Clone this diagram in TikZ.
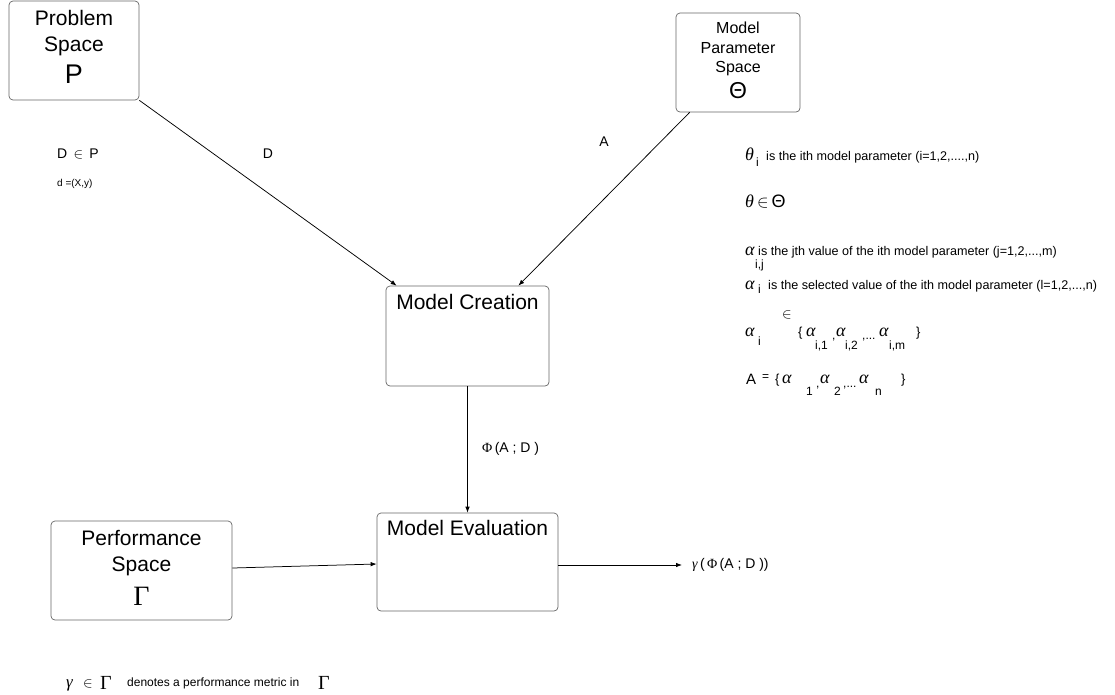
\documentclass[tikz,border=0pt]{standalone}
\usepackage{fontspec}
\setmainfont{Liberation Sans}
\newfontfamily\grk{Liberation Serif}
\usetikzlibrary{arrows.meta}
\newcommand\gk[1]{{\grk\itshape #1}}
\newcommand\gu[1]{{\grk #1}}
\newcommand\fs[1]{\fontsize{#1}{#1}\selectfont}
\begin{document}
\begin{tikzpicture}[x=1pt,y=-1pt,
  box/.style={draw=black!60, rounded corners=4pt, line width=0.7pt, inner sep=0pt},
  arr/.style={-{Latex[length=6pt,width=4.5pt]}, line width=0.75pt, black},
  tt/.style={inner sep=0pt, anchor=base west},
  ct/.style={inner sep=0pt, anchor=base}]
\useasboundingbox[fill=white] (0,0) rectangle (1115,694);

% boxes
\node[box, minimum width=130pt, minimum height=99pt] (ps) at (74,50.5) {};
\node[box, minimum width=124pt, minimum height=99pt] (mps) at (738,62.5) {};
\node[box, minimum width=163pt, minimum height=100pt] (mc) at (467.5,336) {};
\node[box, minimum width=181pt, minimum height=98pt] (me) at (467.5,562) {};
\node[box, minimum width=181pt, minimum height=99pt] (pf) at (141.5,570.5) {};

% box texts
\node[ct, font=\fs{21}] (psa) at (74,25) {Problem};
\node[ct, font=\fs{21}] (psb) at (74,51) {Space};
\node[ct, font=\fs{27}] (psc) at (74,83) {P};
\node[ct, font=\fs{16}] (mpa) at (738,33) {Model};
\node[ct, font=\fs{16}] (mpb) at (738,53) {Parameter};
\node[ct, font=\fs{16}] (mpc) at (738,72) {Space};
\node[ct, font=\fs{23}] (mpd) at (738,98) {Θ};
\node[ct, font=\fs{21}] (mct) at (467.5,309) {Model Creation};
\node[ct, font=\fs{21}] (met) at (467.5,535) {Model Evaluation};
\node[ct, font=\fs{21}] (pfa) at (141.5,545) {Performance};
\node[ct, font=\fs{21}] (pfb) at (141.5,571) {Space};
\node[ct, font=\fs{28}] (pfc) at (141.5,605) {\gu{Γ}};

% connectors
\coordinate (outp) at (682,565);
\draw[arr] (ps.south east) -- ([xshift=11pt]mc.north west);
\draw[arr] ([xshift=14pt]mps.south west) -- ([xshift=-31pt]mc.north east);
\draw[arr] (mc.south) -- (me.north);
\draw[arr] ([yshift=2.5pt]pf.east) -- ([yshift=-2pt]me.west);
\draw[arr] (me.east |- outp) -- (outp);

% connector labels
\node[ct, font=\fs{14}] (lD) at (268,158) {D};
\node[ct, font=\fs{14}] (lA) at (604,146) {A};
\node[tt, font=\fs{14}] (lphi) at (482,452) {\gu{Φ}\,(A ; D )};
\node[tt, font=\fs{14}] (lout) at (692,568) {\gk{γ}\,(\,\gu{Φ}\,(A ; D ))};

% left notes
\node[tt, font=\fs{14}] (n1) at (57,158) {D \,$\in$\, P};
\node[tt, font=\fs{10}] (n2) at (57,186) {d =(X,y)};

% right notes
\node[tt, font=\fs{18}] (r1a) at (745,160) {\gk{θ}};
\node[tt, font=\fs{12}] (r1b) at (756,166) {i};
\node[tt, font=\fs{12.6}] (r1c) at (766,160) {is the ith model parameter (i=1,2,....,n)};

\node[tt, font=\fs{18}] (r2) at (745,207) {\gk{θ}\,$\in$\,Θ};

\node[tt, font=\fs{18}] (r3a) at (745,255) {\gk{α}};
\node[tt, font=\fs{12}] (r3b) at (755,268) {i,j};
\node[tt, font=\fs{12.6}] (r3c) at (758,255) {is the jth value of the ith model parameter (j=1,2,...,m)};

\node[tt, font=\fs{18}] (r4a) at (745,289) {\gk{α}};
\node[tt, font=\fs{12}] (r4b) at (758,293) {i};
\node[tt, font=\fs{12.6}] (r4c) at (768,289) {is the selected value of the ith model parameter (l=1,2,...,n)};

\node[tt, font=\fs{18}] (r5a) at (745,336) {\gk{α}};
\node[tt, font=\fs{12}] (r5b) at (758,345) {i};
\node[tt, font=\fs{15}] (r5c) at (782,318) {$\in$};
\node[tt, font=\fs{13}] (r5d) at (798,336) {\{};
\node[tt, font=\fs{18}] (r5e) at (806,336) {\gk{α}};
\node[tt, font=\fs{12}] (r5f) at (815,349) {i,1};
\node[tt, font=\fs{12}] (r5g) at (832,339) {,};
\node[tt, font=\fs{18}] (r5h) at (836,336) {\gk{α}};
\node[tt, font=\fs{12}] (r5i) at (845,349) {i,2};
\node[tt, font=\fs{12}] (r5j) at (862,339) {,...};
\node[tt, font=\fs{18}] (r5k) at (879,336) {\gk{α}};
\node[tt, font=\fs{12}] (r5l) at (889,349) {i,m};
\node[tt, font=\fs{13}] (r5m) at (916,336) {\}};

\node[tt, font=\fs{15}] (r6a) at (746,384) {A};
\node[tt, font=\fs{12}] (r6b) at (762,380) {=};
\node[tt, font=\fs{13}] (r6c) at (775,383) {\{};
\node[tt, font=\fs{18}] (r6d) at (782,383) {\gk{α}};
\node[tt, font=\fs{12}] (r6e) at (806,395) {1};
\node[tt, font=\fs{12}] (r6f) at (816,387) {,};
\node[tt, font=\fs{18}] (r6g) at (820,383) {\gk{α}};
\node[tt, font=\fs{12}] (r6h) at (834,395) {2};
\node[tt, font=\fs{12}] (r6i) at (843,387) {,...};
\node[tt, font=\fs{18}] (r6j) at (859,383) {\gk{α}};
\node[tt, font=\fs{12}] (r6k) at (875,395) {n};
\node[tt, font=\fs{13}] (r6l) at (901,383) {\}};

% bottom note
\node[tt, font=\fs{17}] (b1) at (66,687) {\gk{γ}};
\node[tt, font=\fs{15}] (b1e) at (83,687) {$\in$};
\node[tt, font=\fs{20}] (b1g) at (100,689) {\gu{Γ}};
\node[tt, font=\fs{12}] (b2) at (127,686) {denotes a performance metric in};
\node[tt, font=\fs{20}] (b3) at (318,689) {\gu{Γ}};
\end{tikzpicture}
\end{document}
